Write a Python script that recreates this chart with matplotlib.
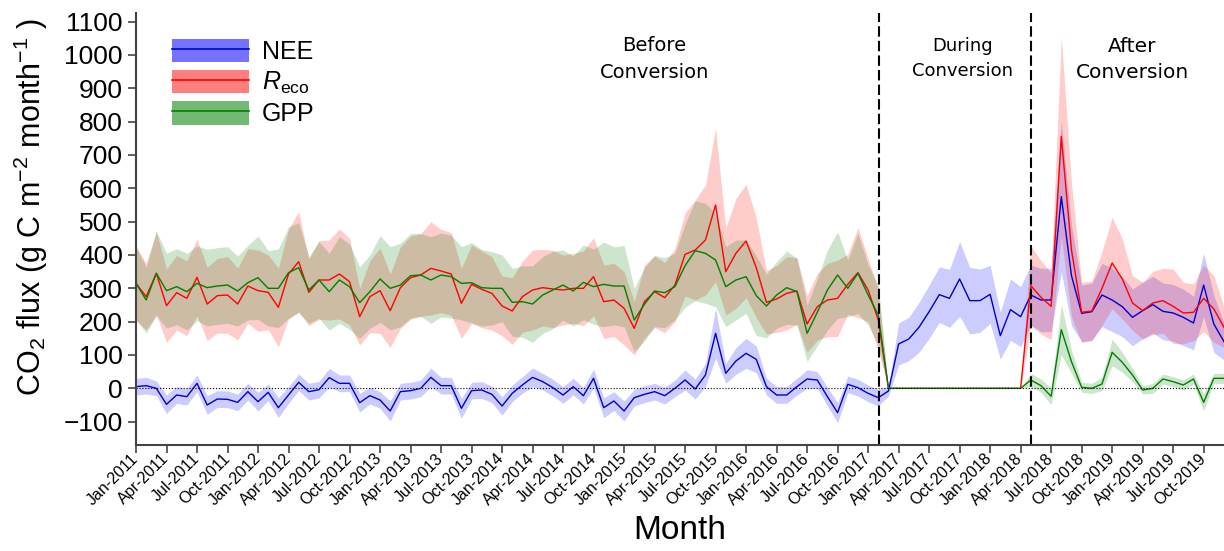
import numpy as np
import pandas as pd
import matplotlib
matplotlib.use("Agg")
import matplotlib.pyplot as plt
from matplotlib.patches import Patch
from matplotlib.lines import Line2D
import matplotlib.transforms as mtransforms

plt.rcParams["font.family"] = ["Liberation Sans", "DejaVu Sans"]
plt.rcParams["mathtext.fontset"] = "custom"
plt.rcParams["mathtext.rm"] = "Liberation Sans"
plt.rcParams["mathtext.it"] = "Liberation Sans:italic"

# monthly fluxes, Jan-2011 .. Dec-2019 (g C m-2 month-1)
months = pd.date_range("2011-01-01", "2019-12-01", freq="MS")

nee = [5, 8, 0, -48, -20, -25, 15, -50, -32, -33, -42, -10, -40, -12, -58, -20, 18, -10,
       -4, 32, 15, 15, -43, -22, -35, -68, -10, -7, 0, 33, 8, 8, -60, -7, -5, -18,
       -53, -15, 10, 33, 20, 2, -20, 5, -22, 30, -58, -38, -68, -28, -18, -10, -22, 0,
       25, -2, 40, 165, 45, 82, 105, 87, 5, -20, -20, 5, 28, 25, -25, -73, 12, 2, -15, -28,
       -8, 133, 148, 183, 230, 281, 270, 328, 263, 263, 282, 158, 236, 215,
       280, 265, 265, 575, 338, 225, 230, 280, 265, 245, 213, 233, 251, 231, 226, 213,
       196, 310, 193, 140]
nee_sd = [25, 25, 22, 28, 25, 25, 25, 28, 25, 25, 25, 25, 28, 25, 30, 25, 25, 25,
          25, 28, 25, 25, 28, 25, 25, 30, 25, 25, 25, 28, 25, 25, 30, 25, 25, 25,
          28, 25, 25, 28, 25, 25, 25, 25, 25, 28, 30, 28, 30, 25, 25, 25, 25, 25,
          30, 30, 35, 75, 30, 40, 45, 40, 25, 25, 25, 25, 28, 25, 28, 30, 25, 25, 25, 25,
          15, 63, 65, 75, 80, 83, 87, 112, 100, 95, 87, 70, 92, 90,
          90, 95, 95, 225, 150, 85, 85, 95, 95, 90, 85, 85, 85, 85, 85, 85,
          80, 95, 85, 55]

reco = [315, 275, 345, 248, 287, 270, 333, 253, 278, 280, 253, 307, 293, 288, 243, 343, 380, 288,
        325, 325, 343, 320, 215, 275, 293, 233, 302, 332, 340, 360, 352, 343, 255, 312, 297, 285,
        247, 232, 275, 295, 302, 298, 295, 300, 300, 335, 260, 265, 240, 180, 260, 290, 272, 310,
        402, 415, 445, 550, 350, 405, 442, 362, 258, 268, 285, 292, 193, 245, 265, 270, 312, 347,
        295, 205,
        0, 0, 0, 0, 0, 0, 0, 0, 0, 0, 0, 0, 0, 0,
        308, 273, 246, 756, 415, 228, 232, 300, 376, 328, 256, 233, 256, 263, 246, 226,
        228, 270, 238, 183]
reco_sd = [110, 100, 125, 110, 112, 112, 115, 110, 112, 115, 108, 112, 122, 112, 118, 135, 150, 100,
           118, 120, 135, 130, 85, 108, 128, 110, 122, 125, 124, 140, 125, 124, 105, 118, 115, 110,
           90, 100, 107, 120, 115, 116, 105, 105, 112, 117, 110, 110, 110, 80, 110, 107, 105, 110,
           125, 150, 165, 230, 130, 165, 170, 150, 95, 100, 110, 100, 85, 100, 110, 115, 90, 135,
           95, 90,
           0, 0, 0, 0, 0, 0, 0, 0, 0, 0, 0, 0, 0, 0,
           120, 110, 100, 300, 200, 90, 90, 110, 137, 120, 82, 85, 95, 97, 112, 92,
           85, 100, 100, 60]

gpp = [315, 265, 345, 293, 305, 290, 315, 302, 307, 310, 292, 317, 332, 300, 300, 347, 362, 295,
       325, 290, 325, 305, 257, 290, 328, 300, 310, 338, 340, 325, 340, 335, 315, 317, 302, 300,
       300, 258, 260, 253, 280, 295, 310, 292, 318, 305, 312, 307, 307, 205, 252, 292, 287, 305,
       368, 413, 405, 385, 305, 325, 335, 278, 247, 280, 302, 290, 165, 228, 295, 340, 300, 345,
       280, 220,
       0, 0, 0, 0, 0, 0, 0, 0, 0, 0, 0, 0, 0, 0,
       25, 8, -24, 176, 80, 3, 0, 13, 108, 78, 40, -5, 0, 28, 20, 10,
       28, -42, 30, 30]
gpp_sd = [110, 99, 127, 112, 114, 115, 112, 115, 115, 115, 105, 112, 125, 113, 118, 137, 135, 100,
          115, 115, 130, 128, 107, 110, 130, 125, 125, 127, 124, 130, 126, 124, 110, 120, 115, 110,
          100, 102, 107, 115, 115, 116, 105, 105, 112, 113, 127, 117, 122, 95, 110, 107, 105, 100,
          125, 150, 150, 140, 120, 120, 110, 120, 95, 100, 110, 100, 85, 100, 120, 130, 85, 120,
          90, 90,
          0, 0, 0, 0, 0, 0, 0, 0, 0, 0, 0, 0, 0, 0,
          20, 20, 25, 75, 35, 15, 15, 20, 40, 30, 20, 12, 15, 15, 15, 15,
          15, 25, 15, 15]

conversion_start = 73.05   # Feb-2017
conversion_end = 88.0      # May-2018

x = np.arange(len(months))

fig = plt.figure(figsize=(12.24, 5.51), dpi=100)
ax = fig.add_axes([136 / 1224, 106 / 551, 1088 / 1224, 432 / 551])

series = [
    (nee, nee_sd, "blue", "mediumblue"),
    (reco, reco_sd, "red", "red"),
    (gpp, gpp_sd, "green", "green"),
]
for vals, sd, fill_col, line_col in series:
    v = np.array(vals, dtype=float)
    s = np.array(sd, dtype=float)
    ax.fill_between(x, v - s, v + s, color=fill_col, alpha=0.2, linewidth=0)
for vals, sd, fill_col, line_col in series:
    ax.plot(x, vals, color=line_col, linewidth=1.0)

ax.axhline(0, color="black", linestyle=":", linewidth=0.8)
for xv in (conversion_start, conversion_end):
    ax.axvline(xv, color="black", linestyle=(0, (5, 2)), linewidth=1.5)

# period annotations
trans = mtransforms.blended_transform_factory(ax.transData, ax.transAxes)
ax.text(51.0, 0.893, "Before\nConversion", transform=trans, ha="center", va="center",
        fontsize=14, family="DejaVu Sans", linespacing=1.5)
ax.text(81.3, 0.895, "During\nConversion", transform=trans, ha="center", va="center",
        fontsize=13, family="DejaVu Sans", linespacing=1.45)
ax.text(98.0, 0.893, "After\nConversion", transform=trans, ha="center", va="center",
        fontsize=14.5, family="DejaVu Sans", linespacing=1.45)

ax.set_xlim(0, 107)
ax.set_ylim(-170, 1126)
ax.set_yticks(np.arange(-100, 1101, 100))
ax.set_xticks(x[::3])
ax.set_xticklabels(months[::3].strftime("%b-%Y"), rotation=45, ha="right",
                   va="center", rotation_mode="anchor", fontsize=11.5)
shift = mtransforms.ScaledTranslation(0.05, -0.02, fig.dpi_scale_trans)
for lab in ax.get_xticklabels():
    lab.set_transform(lab.get_transform() + shift)
ax.tick_params(axis="y", labelsize=19, length=6, width=1.2, color="#444444")
ax.tick_params(axis="x", length=6, width=1.2, color="#444444", pad=2)

for side in ("top", "right"):
    ax.spines[side].set_visible(False)
for side in ("left", "bottom"):
    ax.spines[side].set_color("#444444")
    ax.spines[side].set_linewidth(1.5)

ax.set_xlabel("Month", fontsize=24, labelpad=5)
ax.set_ylabel("CO$_2$ flux (g C m$^{-2}$ month$^{-1}$ )", fontsize=22)
ax.yaxis.set_label_coords(-0.079, 0.55)

handles = [
    (Patch(facecolor="blue", alpha=0.55, edgecolor="none"), Line2D([], [], color="mediumblue", lw=1.2)),
    (Patch(facecolor="red", alpha=0.5, edgecolor="none"), Line2D([], [], color="red", lw=1.2)),
    (Patch(facecolor="green", alpha=0.55, edgecolor="none"), Line2D([], [], color="green", lw=1.2)),
]
ax.legend(handles, ["NEE", "$R_{\\mathrm{eco}}$", "GPP"], loc="upper left",
          bbox_to_anchor=(0.033, 0.94), frameon=False, fontsize=18,
          handlelength=3.1, handleheight=1.05, labelspacing=0.22, handletextpad=0.5,
          borderpad=0, borderaxespad=0)

fig.savefig("out.png", dpi=100)
